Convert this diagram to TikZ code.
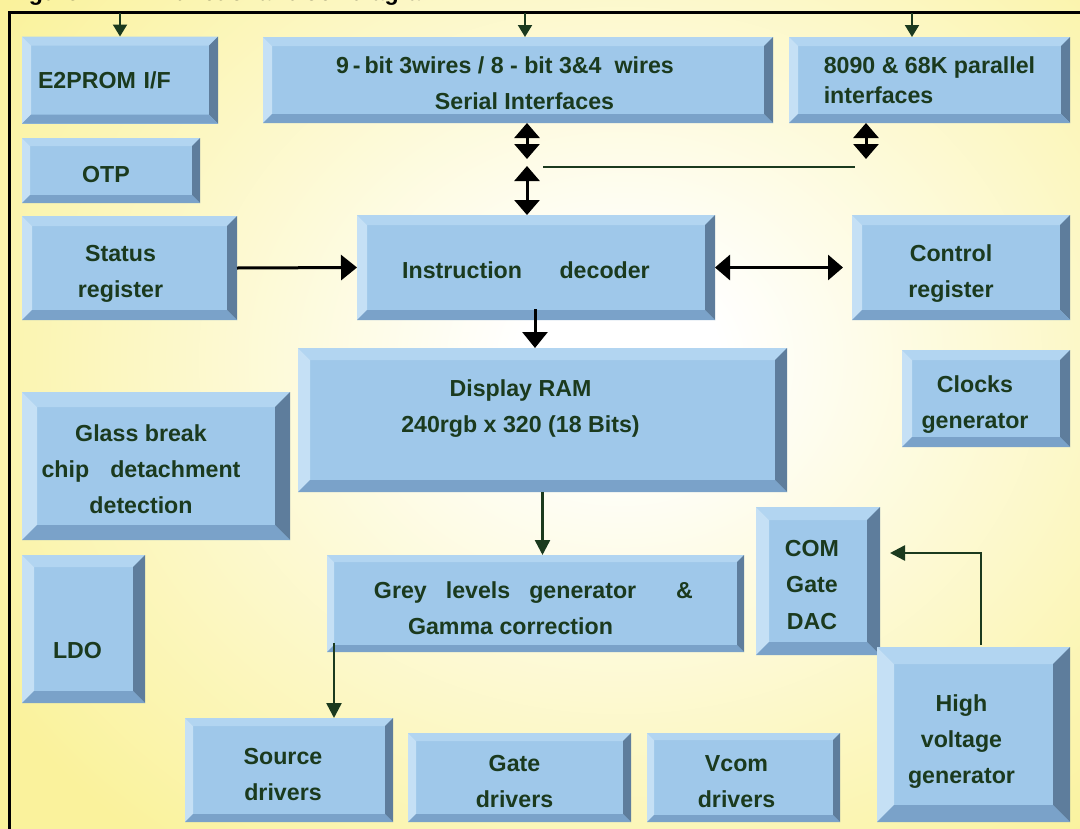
\documentclass[tikz,border=0pt]{standalone}
\usepackage{fontspec}
\setmainfont{Liberation Sans}
\usepackage{tikz}
\usetikzlibrary{arrows.meta}
\usepackage{xcolor}

\definecolor{bgyel}{HTML}{FAF29C}
\definecolor{face}{HTML}{9FC8EA}
\definecolor{bevtop}{HTML}{B2D5F1}
\definecolor{bevleft}{HTML}{C5E0F5}
\definecolor{bevright}{HTML}{5E7D9C}
\definecolor{bevbot}{HTML}{7AA2C9}
\definecolor{txtgrn}{HTML}{1B3A1E}

\pgfdeclareradialshading{glow}{\pgfpoint{0bp}{0bp}}{color(0bp)=(white); color(4bp)=(white); color(30bp)=(bgyel); color(50bp)=(bgyel)}

\newcommand\boxfont{\bfseries\fontsize{13.2}{20.5}\selectfont}
\def\bevw{0.2cm}

\begin{document}
\begin{tikzpicture}[x=0.02cm, y=-0.02cm,
    wh/.style 2 args={minimum width=#1*0.02cm, minimum height=#2*0.02cm},
    bev/.code={\pgfmathsetlengthmacro\bevw{#1*0.02cm}},
    lbltxt/.style={text=txtgrn, font=\boxfont, align=center, inner sep=0pt},
    tx/.style n args={3}{label={[lbltxt, xshift={(#1)*0.02cm}, yshift={-(#2)*0.02cm}]center:{#3}}},
    blk/.style={rectangle, fill=face, text=txtgrn, outer sep=0pt, font=\boxfont, align=center,
      path picture={
        \coordinate (nw) at (path picture bounding box.north west);
        \coordinate (ne) at (path picture bounding box.north east);
        \coordinate (sw) at (path picture bounding box.south west);
        \coordinate (se) at (path picture bounding box.south east);
        \fill[bevtop] (nw) -- (ne) -- ([shift={(-\bevw,-\bevw)}]ne) -- ([shift={(\bevw,-\bevw)}]nw) -- cycle;
        \fill[bevleft] (nw) -- ([shift={(\bevw,-\bevw)}]nw) -- ([shift={(\bevw,\bevw)}]sw) -- (sw) -- cycle;
        \fill[bevright] (ne) -- (se) -- ([shift={(-\bevw,\bevw)}]se) -- ([shift={(-\bevw,-\bevw)}]ne) -- cycle;
        \fill[bevbot] (sw) -- ([shift={(\bevw,\bevw)}]sw) -- ([shift={(-\bevw,\bevw)}]se) -- (se) -- cycle;
      }},
    garrow/.style={draw=txtgrn, line width=0.05cm, -{Triangle[length=0.3cm,width=0.3cm]}},
    tarrow/.style={draw=txtgrn, line width=0.04cm, -{Triangle[length=0.24cm,width=0.28cm]}},
    barrow/.style={draw=black, line width=0.06cm, -{Triangle[length=0.32cm,width=0.5cm]}},
    dblarrow/.style={draw=black, line width=0.06cm, {Triangle[length=0.3cm,width=0.5cm]}-{Triangle[length=0.3cm,width=0.5cm]}}]

  \useasboundingbox (0,0) rectangle (1080,829);
  \clip (0,0) rectangle (1080,829);

  % Background and frame
  \fill[bgyel] (10,12) rectangle (1090,840);
  \fill[shading=glow] (0,-160) rectangle (1240,880);
  \draw[line width=0.06cm] (9.5,840) -- (9.5,12.5) -- (1090,12.5);

  % Title
  \node[anchor=base west, inner sep=0pt, font=\boxfont] (title) at (8,0) {Figure 1.};
  \node[anchor=base west, inner sep=0pt, font=\boxfont] (title2) at (160,0) {Functional block diagram};

  % Top row
  \node[blk, wh={196}{87}, bev=9, align=left, text width=3.28cm, inner xsep=0.32cm] (eprom) at (120,80) {E2PROM I/F};
  \node[blk, wh={510}{86}, bev=9, tx={-13}{3}{9\,-\,bit 3wires / 8 - bit 3\&4\ \ wires\\\hspace*{0.78cm}Serial Interfaces}] (serial) at (518,80) {};
  \node[blk, wh={281}{86}, bev=9, align=left] (par) at (929.5,80) {8090 \& 68K parallel\\[-0.12cm]interfaces};
  \node[blk, wh={178}{65}, bev=8, tx={-5}{4}{OTP}] (otp) at (111,170.5) {};

  % Middle rows
  \node[blk, wh={215}{104}, bev=10, tx={-9}{6}{Status\\register}] (status) at (129.5,268) {};
  \node[blk, wh={358}{105}, bev=10, tx={-10}{3}{Instruction\hspace{0.75cm}decoder}] (dec) at (536,267.5) {};
  \node[blk, wh={218}{105}, bev=10, tx={-10}{6}{Control\\register}] (ctrl) at (961,267.5) {};
  \node[blk, wh={489}{144}, bev=12, tx={-22}{-11}{Display RAM\\240rgb x 320 (18 Bits)}] (ram) at (542.5,420) {};
  \node[blk, wh={168}{97}, bev=10, tx={-11}{6}{Clocks\\generator}] (clk) at (986,398.5) {};
  \node[blk, wh={268}{148}, bev=15, tx={-15}{3}{Glass break\\chip\hspace{0.42cm}detachment\\detection}] (glass) at (156,466) {};
  \node[blk, wh={123}{148}, bev=12, tx={-6}{22}{LDO}] (ldo) at (83.5,629) {};
  \node[blk, wh={417}{97}, bev=7, tx={-25}{5}{\hspace*{0.92cm}Grey\hspace{0.38cm}levels\hspace{0.38cm}generator\hspace{0.8cm}\&\\Gamma correction}] (grey) at (535.5,603.5) {};
  \node[blk, wh={124}{148}, bev=13, tx={-6}{4}{COM\\Gate\\DAC}] (dac) at (818,581) {};

  % Bottom row
  \node[blk, wh={193}{175}, bev=17, tx={-12}{7}{High\\voltage\\generator}] (hv) at (973.5,734.5) {};
  \node[blk, wh={208}{104}, bev=8, tx={-6}{5}{Source\\drivers}] (src) at (289,770) {};
  \node[blk, wh={223}{89}, bev=8, tx={-5}{4}{Gate\\drivers}] (gate) at (519.5,777.5) {};
  \node[blk, wh={193}{89}, bev=7, tx={-7}{4}{Vcom\\drivers}] (vcom) at (743.5,777.5) {};

  % Free ends
  \coordinate (in1) at (120,13);
  \coordinate (in2) at (525,13);
  \coordinate (in3) at (912,13);
  \coordinate (busa) at (527,159);
  \coordinate (busb) at (527,166);
  \coordinate (busl) at (543,167);
  \coordinate (busr) at (855,167);
  \coordinate (pbus) at (866,159);
  \coordinate (d2r) at (535,309);
  \coordinate (g2s) at (334,643);
  \coordinate (hvup) at (981,645);
  \coordinate (dacin) at (890,553);

  % Connectors
  \draw[tarrow] (in1) -- (in1 |- eprom.north);
  \draw[tarrow] (in2) -- (in2 |- serial.north);
  \draw[tarrow] (in3) -- (in3 |- par.north);
  \draw[dblarrow] (busa |- serial.south) -- (busa);
  \draw[dblarrow] (busb) -- (busb |- dec.north);
  \draw[draw=txtgrn, line width=0.05cm] (busl) -- (busr);
  \draw[dblarrow] (pbus |- par.south) -- (pbus);
  \draw[barrow] (status.east) -- (dec.west);
  \draw[dblarrow, shorten >=0.18cm] (dec.east) -- (ctrl.west);
  \draw[barrow] (d2r) -- (d2r |- ram.north);
  \draw[garrow] (ram.south) -- (ram.south |- grey.north);
  \draw[garrow] (g2s) -- (g2s |- src.north);
  \draw[garrow] (hvup) |- (dacin);

\end{tikzpicture}
\end{document}
